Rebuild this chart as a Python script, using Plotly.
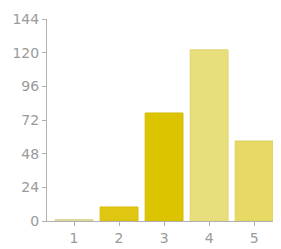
import plotly.graph_objects as go

categories = [1, 2, 3, 4, 5]
values = [1, 10, 77, 122, 57]
colors = ["#e2dfa2", "#dfc611", "#dcc400", "#e8de7c", "#e6d964"]
line_colors = ["#d8d494", "#d6bd0a", "#d3bb00", "#e0d46c", "#ddd058"]
y_ticks = [0, 24, 48, 72, 96, 120, 144]

fig = go.Figure(go.Bar(
    x=categories, y=values,
    marker=dict(color=colors, line=dict(color=line_colors, width=1)),
    width=0.84,
))

# page body has an 8px margin, so the figure is offset by 8px
fig.update_layout(
    width=273, height=241,
    margin=dict(l=39, r=3, t=6, b=25),
    plot_bgcolor="white", paper_bgcolor="white",
    showlegend=False,
    font=dict(family="DejaVu Sans, sans-serif", size=14, color="#9a9a9a"),
)
fig.update_xaxes(
    range=[0.4, 5.53], tickvals=categories, ticktext=[str(c) for c in categories],
    showgrid=False, zeroline=False, showline=True, linecolor="#b0b0b0", linewidth=1,
    ticks="outside", ticklen=4, tickcolor="#b0b0b0", ticklabeloverflow="allow",
)
fig.update_yaxes(
    range=[0, 144], tickvals=y_ticks, ticktext=[str(v) for v in y_ticks],
    showgrid=False, zeroline=False, showline=True, linecolor="#b0b0b0", linewidth=1,
    ticks="outside", ticklen=4, tickcolor="#b0b0b0", ticklabeloverflow="allow",
)

fig.write_html("out.html")
